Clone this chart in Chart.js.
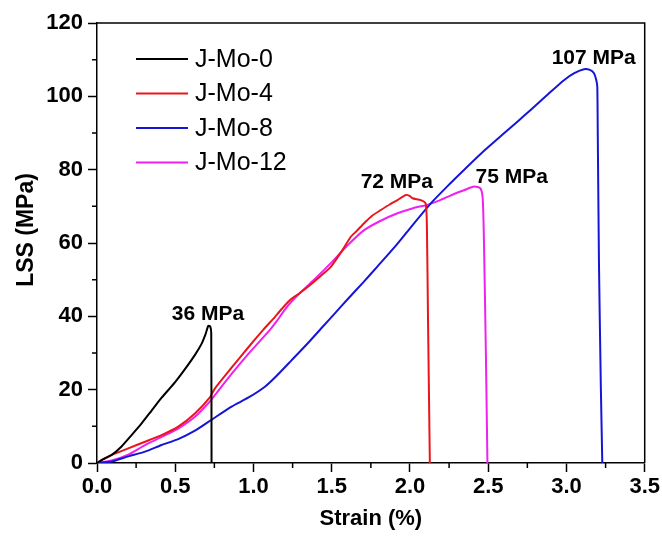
<!DOCTYPE html>
<html lang="en">
  <head>
    <meta charset="utf-8" />
    <title>LSS vs strain</title>
    <script src="https://cdn.jsdelivr.net/npm/chart.js@4.4.1/dist/chart.umd.min.js"></script>
    <style>
      body { margin: 0; background: #fff; }
    </style>
  </head>
  <body>
    <canvas id="lss" width="662" height="537"></canvas>

    <script>
      // series (strain %, LSS MPa)
      var strain0 = [0, 0.03, 0.094, 0.157, 0.221, 0.285, 0.349, 0.413, 0.498, 0.562, 0.626, 0.668, 0.695, 0.711, 0.724, 0.73, 0.732];
      var lss0 = [0, 0.8, 2.2, 4.5, 7.6, 10.8, 14.3, 17.8, 22.0, 25.6, 29.5, 32.5, 35.3, 37.4, 37.2, 35.4, 0];

      var strain4 = [0, 0.05, 0.094, 0.2, 0.307, 0.413, 0.519, 0.626, 0.72, 0.753, 0.86, 0.966, 1.062, 1.126, 1.18, 1.232, 1.30, 1.36, 1.424, 1.494, 1.56, 1.622, 1.66, 1.707, 1.76, 1.814, 1.87, 1.92, 1.973, 2.0, 2.016, 2.069, 2.10, 2.108, 2.115, 2.127];
      var lss4 = [0, 1.3, 2.2, 4.0, 5.8, 7.6, 9.9, 13.5, 17.8, 20.3, 26.0, 31.5, 36.3, 39.3, 42.0, 44.4, 46.5, 48.5, 50.8, 53.5, 57.5, 61.7, 63.3, 65.4, 67.5, 69.0, 70.5, 71.7, 73.1, 72.8, 72.2, 71.7, 70.8, 65, 40, 0];

      var strain8 = [0, 0.094, 0.2, 0.307, 0.413, 0.519, 0.626, 0.732, 0.86, 0.966, 1.073, 1.137, 1.243, 1.35, 1.445, 1.52, 1.6, 1.7, 1.79, 1.9, 2.0, 2.133, 2.24, 2.345, 2.47, 2.601, 2.69, 2.771, 2.88, 2.984, 3.05, 3.112, 3.15, 3.176, 3.19, 3.197, 3.20, 3.208, 3.22, 3.229];
      var lss8 = [0, 0.4, 1.8, 3.1, 4.9, 6.5, 8.8, 11.8, 15.4, 17.8, 20.8, 23.3, 28.0, 32.8, 37.3, 40.8, 44.6, 49.2, 53.5, 58.8, 64.0, 70.8, 75.5, 79.9, 85.0, 89.9, 93.2, 96.3, 100.5, 104.4, 106.3, 107.4, 107.2, 106.3, 104.5, 102.6, 90, 53.5, 20, 0];

      var strain12 = [0, 0.094, 0.2, 0.307, 0.413, 0.519, 0.626, 0.72, 0.753, 0.86, 0.966, 1.105, 1.147, 1.19, 1.232, 1.30, 1.40, 1.494, 1.6, 1.707, 1.81, 1.92, 2.02, 2.11, 2.18, 2.24, 2.30, 2.345, 2.41, 2.45, 2.465, 2.473, 2.485, 2.495];
      var lss12 = [0, 0.7, 2.3, 4.9, 7.1, 9.4, 12.6, 16.7, 18.5, 24.3, 29.7, 36.3, 38.6, 41.2, 43.5, 46.5, 50.5, 54.5, 59.3, 63.5, 66.0, 68.1, 69.5, 70.4, 71.5, 72.6, 73.7, 74.4, 75.4, 74.9, 72, 60, 30, 0];

      var seriesNames = ["J-Mo-0", "J-Mo-4", "J-Mo-8", "J-Mo-12"];
      var seriesColors = ["#000000", "#e8161b", "#1515d8", "#f020f0"];

      // peak labels (text, strain, LSS at text centre)
      var peakText = ["36 MPa", "72 MPa", "75 MPa", "107 MPa"];
      var peakX = [0.709, 1.916, 2.65, 3.174];
      var peakY = [40.6, 76.6, 78.0, 110.4];

      var FONT = "'Liberation Sans', Arial, sans-serif";

      function zip(xs, ys) {
        var out = [];
        for (var i = 0; i < xs.length; i++) out.push({ x: xs[i], y: ys[i] });
        return out;
      }

      var allData = [zip(strain0, lss0), zip(strain4, lss4), zip(strain8, lss8), zip(strain12, lss12)];
      var datasets = seriesNames.map(function (name, i) {
        return {
          label: name,
          data: allData[i],
          borderColor: seriesColors[i],
          backgroundColor: seriesColors[i],
          borderWidth: 2,
          pointRadius: 0,
          tension: 0.2,
          fill: false,
        };
      });

      // frame, minor ticks, y title, legend and peak labels
      var extras = {
        id: "extras",
        afterDraw: function (chart) {
          var ctx = chart.ctx;
          var a = chart.chartArea;
          var xs = chart.scales.x;
          var ys = chart.scales.y;
          ctx.save();
          ctx.strokeStyle = "#000";
          ctx.lineWidth = 1.5;
          ctx.beginPath();
          ctx.moveTo(a.left, a.top);
          ctx.lineTo(a.right, a.top);
          ctx.lineTo(a.right, a.bottom);
          ctx.stroke();

          // minor ticks
          ctx.beginPath();
          for (var v = 0.25; v < 3.5; v += 0.5) {
            var px = xs.getPixelForValue(v);
            ctx.moveTo(px, a.bottom);
            ctx.lineTo(px, a.bottom + 5);
          }
          for (var w = 10; w < 120; w += 20) {
            var py = ys.getPixelForValue(w);
            ctx.moveTo(a.left, py);
            ctx.lineTo(a.left - 5, py);
          }
          ctx.stroke();

          // y title, sits a bit above the plot centre in the original
          ctx.fillStyle = "#000";
          ctx.font = "bold 23px " + FONT;
          ctx.textAlign = "center";
          ctx.textBaseline = "middle";
          ctx.save();
          ctx.translate(27, 230);
          ctx.rotate(-Math.PI / 2);
          ctx.fillText("LSS (MPa)", 0, 0);
          ctx.restore();

          // legend
          ctx.font = "25px " + FONT;
          ctx.textAlign = "left";
          for (var i = 0; i < seriesNames.length; i++) {
            var ly = 59 + i * 34.5;
            ctx.strokeStyle = seriesColors[i];
            ctx.lineWidth = 2;
            ctx.beginPath();
            ctx.moveTo(136, ly);
            ctx.lineTo(188, ly);
            ctx.stroke();
            ctx.fillText(seriesNames[i], 195, ly + 1);
          }

          // peak labels
          ctx.font = "bold 21px " + FONT;
          ctx.textAlign = "center";
          for (var k = 0; k < peakText.length; k++) {
            ctx.fillText(peakText[k], xs.getPixelForValue(peakX[k]), ys.getPixelForValue(peakY[k]));
          }
          ctx.restore();
        },
      };

      var ctx = document.getElementById("lss").getContext("2d");
      var chart = new Chart(ctx, {
        type: "line",
        data: { datasets: datasets },
        plugins: [extras],
        options: {
          responsive: false,
          animation: false,
          devicePixelRatio: 1,
          layout: { padding: { left: 0, right: 17, top: 23, bottom: 0 } },
          plugins: { legend: { display: false }, tooltip: { enabled: false } },
          scales: {
            x: {
              type: "linear",
              min: 0,
              max: 3.5,
              afterFit: function (s) { s.height = 74; },
              ticks: {
                stepSize: 0.5,
                color: "#000",
                padding: 2,
                font: { family: FONT, size: 22, weight: "bold" },
                callback: function (v) { return v.toFixed(1); },
              },
              grid: { drawOnChartArea: false, drawTicks: true, tickLength: 9, tickColor: "#000", tickWidth: 1.5 },
              border: { display: true, color: "#000", width: 1.5 },
              title: {
                display: true,
                text: "Strain (%)",
                color: "#000",
                font: { family: FONT, size: 22, weight: "bold" },
                padding: { top: 0, bottom: 5 },
              },
            },
            y: {
              min: 0,
              max: 120,
              afterFit: function (s) { s.width = 97; },
              ticks: {
                stepSize: 20,
                color: "#000",
                padding: 5,
                font: { family: FONT, size: 22, weight: "bold" },
              },
              grid: { drawOnChartArea: false, drawTicks: true, tickLength: 9, tickColor: "#000", tickWidth: 1.5 },
              border: { display: true, color: "#000", width: 1.5 },
              title: { display: false },
            },
          },
        },
      });
    </script>
  </body>
</html>
